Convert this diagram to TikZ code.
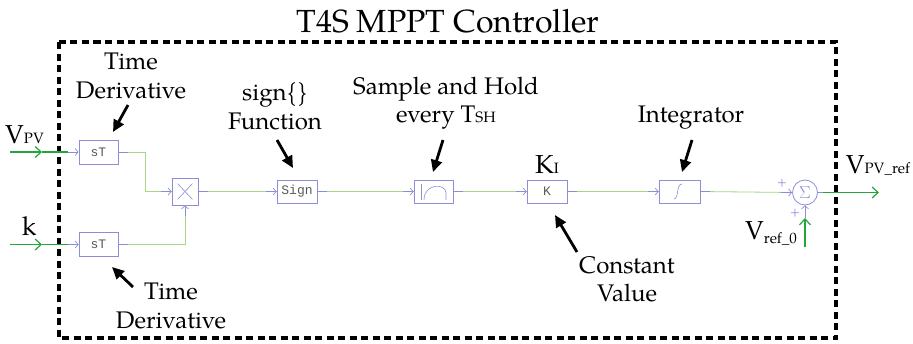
\documentclass[tikz,border=0pt]{standalone}
\usepackage{fontspec}
\setmainfont{TeX Gyre Pagella}
\setmonofont{Liberation Mono}
\usetikzlibrary{arrows.meta,calc}
\definecolor{boxc}{RGB}{140,140,215}
\definecolor{wirec}{RGB}{165,215,135}
\definecolor{ingreen}{RGB}{35,165,60}
\newcommand\smallsub[1]{{\fontsize{15}{15}\selectfont #1}}
\begin{document}
\begin{tikzpicture}[x=1pt,y=-1pt,
  blk/.style={draw=boxc, line width=0.8pt, minimum width=40pt, minimum height=23pt, inner sep=0pt,
    font=\ttfamily\fontsize{13}{13}\selectfont, text=black!65},
  wire/.style={draw=wirec, line width=0.8pt},
  port/.style={draw=boxc, line width=0.7pt, -{Straight Barb[length=3pt,width=7pt]}},
  portl/.style={draw=boxc, line width=0.7pt},
  inarrow/.style={draw=ingreen, line width=1.2pt, -{Straight Barb[length=6pt,width=11pt]}},
  inline/.style={draw=ingreen, line width=1.2pt},
  ann/.style={line width=2.8pt, -{Triangle[length=12pt,width=11pt]}},
  lbl/.style={font=\fontsize{24}{28.5}\selectfont, align=center, inner sep=0pt},
  frame/.style={line width=4pt, dash pattern=on 7pt off 4.5pt},
  plus/.style={text=boxc, font=\fontsize{13}{13}\selectfont, inner sep=0pt}
]
\useasboundingbox (0,0) rectangle (913,343);

% frame and title
\draw[frame] (59,42) rectangle (836,338);
\node[font=\fontsize{32}{32}\selectfont, anchor=base, inner sep=0pt] (title) at (448,32) {T4S MPPT Controller};

% blocks
\node[blk, minimum width=39pt, minimum height=24pt] (d1) at (98.5,152) {sT};
\node[blk, minimum width=39pt, minimum height=24pt] (d2) at (98.5,244.5) {sT};
\node[blk, minimum width=26pt, minimum height=27pt] (mul) at (185,191.5) {};
\node[blk] (sgn) at (297,191.5) {Sign};
\node[blk, minimum width=39pt] (sh) at (433.5,191.5) {};
\node[blk] (kk) at (547,191.5) {K};
\node[blk, minimum width=41pt] (intg) at (679.5,191.5) {};
\node[draw=boxc, line width=0.8pt, circle, minimum size=25pt, inner sep=0pt, text=boxc,
  font=\fontsize{17}{17}\selectfont] (sum) at (805,192.5) {$\Sigma$};

% block icons
\draw[boxc, line width=0.6pt] ($(mul.north west)+(6,6)$) -- ($(mul.south east)+(-6,-6)$);
\draw[boxc, line width=0.6pt] ($(mul.north east)+(-6,6)$) -- ($(mul.south west)+(6,-6)$);
\draw[boxc, line width=0.6pt] (421,184) -- (421,200);
\draw[boxc, line width=0.6pt] (424,200) .. controls (424,183) and (446,183) .. (446,193) -- (446,200);
\draw[boxc, line width=0.6pt] (674,199) .. controls (679,199) and (676,184) .. (682,184);

% coordinates
\coordinate (in1) at (10,152);
\coordinate (in1m) at (42,152);
\coordinate (in1p) at (68,152);
\coordinate (in2) at (10,244.5);
\coordinate (in2m) at (42,244.5);
\coordinate (in2p) at (68,244.5);
\coordinate (out) at (879,192.5);
\coordinate (vr) at (805,247);
\coordinate (vrm) at (805,218);

% inputs
\draw[inarrow] (in1) -- (in1m);
\draw[inline] (in1m) -- (in1p);
\draw[port] (in1p) -- (d1.west);
\draw[inarrow] (in2) -- (in2m);
\draw[inline] (in2m) -- (in2p);
\draw[port] (in2p) -- (d2.west);

% wires
\draw[wire] (d1.east) -| (145,191.5) -- (mul.west);
\draw[portl] (d1.east) -- ++(10,0);
\draw[port] ($(mul.west)+(-11,0)$) -- (mul.west);
\draw[wire] (d2.east) -| (mul.south);
\draw[portl] (d2.east) -- ++(10,0);
\draw[port] ($(mul.south)+(0,11)$) -- (mul.south);

\foreach \a/\b in {mul/sgn, sgn/sh, sh/kk, kk/intg}{
  \draw[wire] (\a.east) -- (\b.west);
  \draw[portl] (\a.east) -- ++(10,0);
  \draw[port] ($(\b.west)+(-11,0)$) -- (\b.west);
}
\draw[wire] (intg.east) -- (sum.west);
\draw[portl] (intg.east) -- ++(10,0);
\draw[port] ($(sum.west)+(-11,0)$) -- (sum.west);

% output and reference
\draw[portl] (sum.east) -- ++(5,0);
\draw[inarrow] ($(sum.east)+(5,0)$) -- (out);
\draw[inarrow] (vr) -- (vrm);
\draw[port] (vrm) -- (sum.south);
\node[plus] (p1) at (782,183) {+};
\node[plus] (p2) at (795,213) {+};

% signal labels
\node[font=\fontsize{26}{26}\selectfont, anchor=base, inner sep=0pt] (lvpv) at (24.5,143) {V\smallsub{PV}};
\node[font=\fontsize{26}{26}\selectfont, anchor=base, inner sep=0pt] (lk) at (29,235) {k};
\node[font=\fontsize{26}{26}\selectfont, anchor=base, inner sep=0pt] (lout) at (878,173) {V\smallsub{PV\_ref}};
\node[font=\fontsize{26}{26}\selectfont, anchor=base, inner sep=0pt] (lvr) at (771,239) {V\raisebox{-4pt}{\smallsub{ref\_0}}};
\node[font=\fontsize{26}{26}\selectfont, anchor=base, inner sep=0pt] (lki) at (547,173) {K\smallsub{I}};

% annotations
\node[lbl] (t1) at (131,76) {Time\\Derivative};
\node[lbl] (t2) at (275,106) {sign\{\}\\Function};
\node[lbl] (t3) at (446,103) {Sample and Hold\\every T\smallsub{SH}};
\node[lbl, anchor=base] (t4) at (691,122) {Integrator};
\node[lbl] (t5) at (627,279) {Constant\\Value};
\node[lbl] (t6) at (171,306) {Time\\Derivative};

\coordinate (a1s) at (128,105); \coordinate (a1e) at (113,132);
\coordinate (a2s) at (277,140); \coordinate (a2e) at (293,168);
\coordinate (a3s) at (443,140); \coordinate (a3e) at (433,172);
\coordinate (a4s) at (577,252); \coordinate (a4e) at (555,215);
\coordinate (a5s) at (692,140); \coordinate (a5e) at (682,172);
\coordinate (a6s) at (133,287); \coordinate (a6e) at (112,267);
\foreach \i in {1,...,6}{\draw[ann] (a\i s) -- (a\i e);}
\end{tikzpicture}
\end{document}
